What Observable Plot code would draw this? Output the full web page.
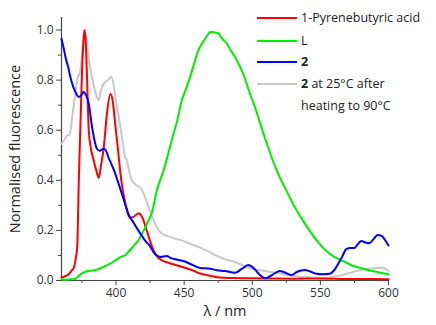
<!DOCTYPE html>
<html>
<head>
<meta charset="utf-8">
<script src="https://cdn.jsdelivr.net/npm/d3@7"></script>
<script src="https://cdn.jsdelivr.net/npm/@observablehq/plot@0.6"></script>
<style>
  html, body { margin: 0; padding: 0; background: #fff; }
  #wrap { position: relative; width: 436px; height: 325px; font-family: "Open Sans", sans-serif; }
  #legend { position: absolute; left: 257px; top: 8px; font-size: 12.5px; color: #222; }
  .row { position: absolute; left: 0; white-space: nowrap; height: 20px; line-height: 20px; }
  .sw { position: absolute; left: 0; top: 9px; width: 40px; height: 2px; }
  .lab { position: absolute; left: 44px; top: 0; }
</style>
</head>
<body>
<div id="wrap"><div id="chart"></div><div id="legend"></div></div>
<script>
// ---- data ----
const xDomain = [360, 600];
const yDomain = [0, 1.05];
const xMajor = [400, 450, 500, 550, 600];
const xMinor = [375, 425, 475, 525, 575];
const yMajor = [0, 0.2, 0.4, 0.6, 0.8, 1.0];
const yMinor = [0.1, 0.3, 0.5, 0.7, 0.9];

const seriesNames = ["1-Pyrenebutyric acid", "L", "2", "2 at 25°C after heating to 90°C"];
const seriesColors = ["#ff0000", "#00ee00", "#0000ff", "#c8c8c8"];

const pbaX = [360,363,365.3,367.5,369,370.5,371.5,372.7,374,375.1,376.3,377,378,379,380,381.5,383.6,385.5,387.3,389,391,393.4,395.9,397.5,399.5,401.5,403.2,405,406.8,408.5,410.5,413,416.6,418.5,420.2,422.5,425,428,431.2,436,442,448,454,461.7,468,476,485,495,510,530,550,570,590,600];
const pbaY = [0.012,0.018,0.025,0.04,0.05,0.09,0.13,0.4,0.64,0.84,0.97,1.0,0.93,0.76,0.6,0.53,0.48,0.44,0.41,0.46,0.53,0.67,0.745,0.72,0.62,0.52,0.43,0.36,0.31,0.27,0.25,0.255,0.268,0.26,0.24,0.2,0.158,0.115,0.09,0.075,0.065,0.055,0.045,0.028,0.02,0.012,0.01,0.009,0.008,0.007,0.008,0.006,0.006,0.005];

const lX = [360,363,367,370,372,374,377.6,380,382.5,386,389,392.2,395,398,400.8,404,406.8,410,414.1,417,420.2,423,426.4,430,434.9,438,442.2,445,448.3,451,454.4,457,460.5,463,466.6,468.5,470.3,472.5,475.1,478,481.2,484,487.3,490,492.2,495,498.3,501.5,504.4,508,511.7,515,520.2,525,530,536,542.2,548,554.4,560,566.6,572,578.8,585,591,595,600];
const lY = [0.005,0.003,0.005,0.006,0.015,0.025,0.035,0.038,0.04,0.043,0.05,0.058,0.065,0.075,0.085,0.095,0.102,0.12,0.145,0.165,0.198,0.23,0.272,0.36,0.44,0.5,0.586,0.64,0.72,0.76,0.813,0.86,0.92,0.945,0.975,0.99,0.993,0.99,0.987,0.965,0.947,0.92,0.893,0.865,0.84,0.8,0.746,0.7,0.652,0.59,0.532,0.48,0.412,0.36,0.305,0.25,0.198,0.155,0.118,0.095,0.078,0.063,0.051,0.042,0.035,0.03,0.025];

const c2X = [360,361.5,363,365,366.6,368.5,370.2,372.7,374.5,376.3,378,380,382.5,384,386,388,391,392.5,394.6,397,399.5,402,404.4,407,409.2,413,416.6,419,421.5,423.9,428.8,432.4,437.3,440,445,449.5,455,461.7,468,474,480,487.3,492,497,501,505,509.3,514,520.2,524,528.8,533,538.5,543,547,552,556.8,560,562.9,566,569,572,575,577.5,580,583,586,589,592,595,597,600];
const c2Y = [0.965,0.93,0.89,0.85,0.81,0.775,0.753,0.733,0.74,0.753,0.74,0.706,0.61,0.565,0.526,0.518,0.526,0.52,0.49,0.46,0.426,0.385,0.345,0.3,0.265,0.23,0.198,0.178,0.158,0.145,0.105,0.094,0.098,0.09,0.083,0.078,0.065,0.05,0.048,0.041,0.038,0.031,0.045,0.062,0.05,0.025,0.009,0.02,0.038,0.032,0.022,0.035,0.042,0.035,0.027,0.025,0.027,0.04,0.065,0.095,0.125,0.13,0.13,0.145,0.158,0.152,0.149,0.165,0.182,0.178,0.165,0.14];

const c2hX = [360,362,364.2,366,368,370,371.5,373.9,375.5,377,379,381,383.6,385.5,387.3,389,391,394,396.6,398,399.5,401.5,403.2,405,406.8,408,409.5,411.7,415,417.8,420,421.5,423.9,427,430,433,437.3,441,445,449.5,455,461.7,468,474,480,488.6,494,500.7,507,513,519,525,531,537.3,543,549.5,555,561.7,565,569,573,576.4,580,583.7,588,593.4,597,600];
const c2hY = [0.546,0.56,0.58,0.58,0.66,0.74,0.8,0.84,0.93,1.0,0.93,0.85,0.78,0.74,0.72,0.76,0.786,0.8,0.813,0.79,0.733,0.67,0.612,0.55,0.49,0.48,0.44,0.4,0.38,0.372,0.35,0.33,0.292,0.25,0.212,0.19,0.178,0.172,0.165,0.158,0.145,0.131,0.115,0.098,0.085,0.071,0.058,0.045,0.04,0.035,0.03,0.022,0.018,0.014,0.012,0.009,0.01,0.018,0.02,0.027,0.032,0.038,0.042,0.045,0.048,0.051,0.048,0.038];

// ---- build tables ----
const toRows = (xs, ys) => xs.map((x, i) => ({x, y: ys[i]}));
const pba = toRows(pbaX, pbaY);
const lig = toRows(lX, lY);
const c2 = toRows(c2X, c2Y);
const c2h = toRows(c2hX, c2hY);

const axisColor = "#444";
const chart = Plot.plot({
  width: 436,
  height: 325,
  marginLeft: 61,
  marginRight: 48,
  marginTop: 17,
  marginBottom: 45,
  style: {fontFamily: "Open Sans, sans-serif", fontSize: "12px", color: "#333", background: "#fff", overflow: "visible"},
  x: {domain: xDomain},
  y: {domain: yDomain},
  marks: [
    Plot.axisY({ticks: yMajor, tickSize: 5, tickPadding: 3, tickFormat: d3.format(".1f"), label: null, stroke: axisColor, fontSize: 12}),
    Plot.axisY({ticks: yMinor, tickSize: 3, tickFormat: () => "", label: null, stroke: axisColor}),
    Plot.axisX({ticks: xMajor, tickSize: 5, tickPadding: 3, tickFormat: d3.format("d"), label: null, stroke: axisColor, fontSize: 12}),
    Plot.axisX({ticks: xMinor, tickSize: 3, tickFormat: () => "", label: null, stroke: axisColor}),
    Plot.ruleX([xDomain[0]], {stroke: axisColor, strokeWidth: 1.2}),
    Plot.ruleY([yDomain[0]], {stroke: axisColor, strokeWidth: 1.2}),
    Plot.text(["Normalised fluorescence"], {frameAnchor: "left", textAnchor: "middle", rotate: -90, dx: -46, fontSize: 14.5, fill: "#222"}),
    Plot.text(["λ / nm"], {frameAnchor: "bottom", dy: 35, fontSize: 14.5, fill: "#222"}),
    Plot.line(c2h, {x: "x", y: "y", stroke: seriesColors[3], strokeWidth: 2, curve: "monotone-x"}),
    Plot.line(pba, {x: "x", y: "y", stroke: seriesColors[0], strokeWidth: 2, curve: "monotone-x"}),
    Plot.line(lig, {x: "x", y: "y", stroke: seriesColors[1], strokeWidth: 2, curve: "monotone-x"}),
    Plot.line(c2, {x: "x", y: "y", stroke: seriesColors[2], strokeWidth: 2, curve: "monotone-x"})
  ]
});
document.getElementById("chart").appendChild(chart);

// ---- legend ----
const legend = document.getElementById("legend");
const rowTops = [0, 23, 44, 66];
seriesNames.forEach((name, i) => {
  const row = document.createElement("div");
  row.className = "row";
  row.style.top = rowTops[i] + "px";
  const sw = document.createElement("div");
  sw.className = "sw";
  sw.style.background = seriesColors[i];
  row.appendChild(sw);
  const lab = document.createElement("div");
  lab.className = "lab";
  if (i === 2) {
    lab.innerHTML = "<b>2</b>";
  } else if (i === 3) {
    lab.innerHTML = "<b>2</b> at 25°C after<br>heating to 90°C";
    lab.style.lineHeight = "22px";
    lab.style.top = "-1px";
  } else {
    lab.textContent = name;
  }
  row.appendChild(lab);
  legend.appendChild(row);
});
</script>
</body>
</html>
